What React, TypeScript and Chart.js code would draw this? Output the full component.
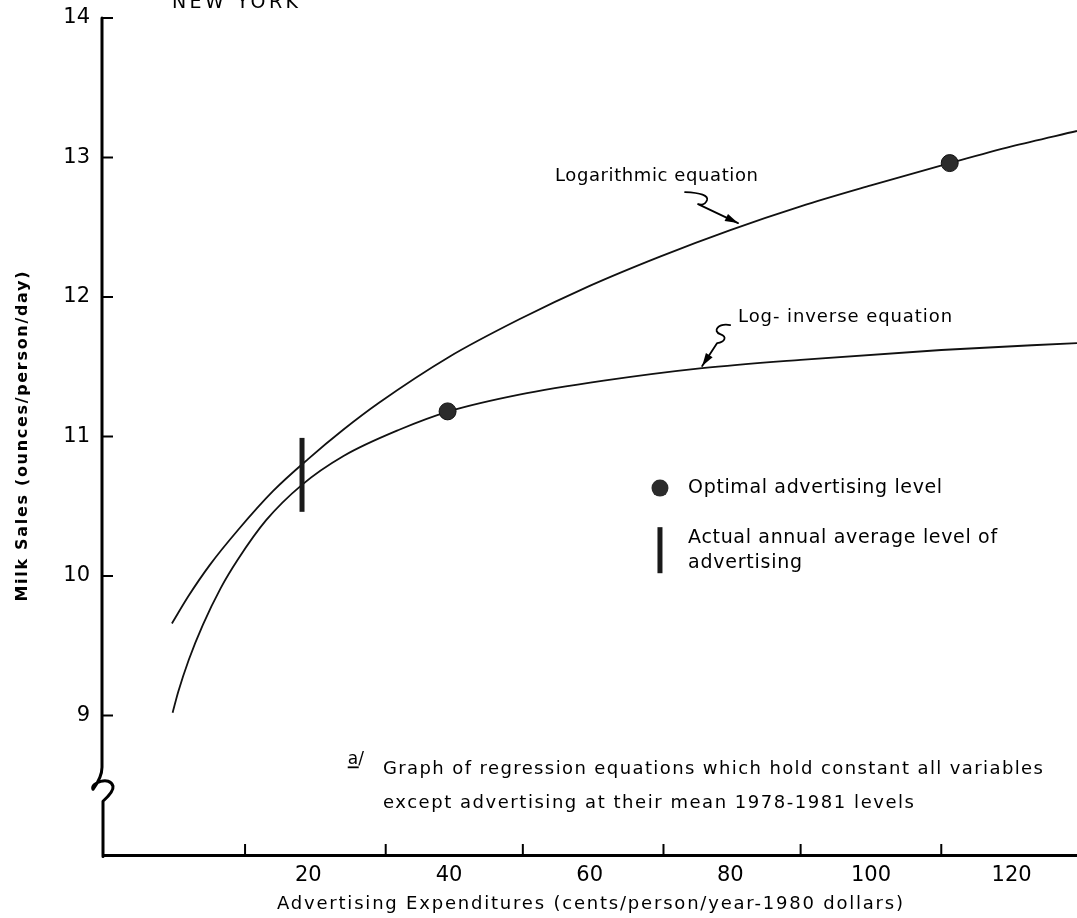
import React, { useEffect, useRef } from "react";
import { Chart, registerables } from "chart.js";
Chart.register(...registerables);

// ---- data ----
const logX = [0.6, 3, 6, 10, 15, 20, 25, 30, 40, 50, 60, 70, 80, 90, 100, 111.2, 120, 129.3];
const logY = [9.66, 9.86, 10.08, 10.33, 10.61, 10.84, 11.05, 11.24, 11.57, 11.84, 12.08, 12.29, 12.48, 12.65, 12.8, 12.96, 13.08, 13.19];
const invX = [0.7, 1.5, 3, 5, 7.5, 10, 14, 19, 25, 33, 40, 50, 62, 76, 90, 110, 129.3];
const invY = [9.02, 9.17, 9.4, 9.65, 9.91, 10.12, 10.4, 10.65, 10.86, 11.05, 11.18, 11.3, 11.4, 11.49, 11.55, 11.62, 11.67];
const optimalX = [111.2, 39.8];
const optimalY = [12.96, 11.18];
const actualX = [19.1, 19.1];
const actualY = [10.46, 10.99];
const xTickLabels = [20, 40, 60, 80, 100, 120];
const xTickMarks = [11, 31, 50.5, 70.5, 90, 110];
const yTickLabels = [9, 10, 11, 12, 13, 14];
const X_MIN = -9.2;
const X_MAX = 129.3;
const Y_MIN = 8;
const Y_MAX = 14;
const BREAK_Y = 8.5;

const FONT = '"DejaVu Sans", sans-serif';

function fitText(
  ctx: CanvasRenderingContext2D,
  text: string,
  x: number,
  y: number,
  width: number,
  size: number,
  weight = "normal",
  baseline: CanvasTextBaseline = "middle"
) {
  ctx.save();
  ctx.font = `${weight} ${size}px ${FONT}`;
  (ctx as any).letterSpacing = "0px";
  const w = ctx.measureText(text).width;
  const ls = text.length > 1 ? (width - w) / (text.length - 1) : 0;
  (ctx as any).letterSpacing = `${ls}px`;
  ctx.textAlign = "left";
  ctx.textBaseline = baseline;
  ctx.fillStyle = "#000";
  ctx.fillText(text, x, y);
  ctx.restore();
}

const annotations = {
  id: "annotations",
  afterDraw(chart: any) {
    const ctx: CanvasRenderingContext2D = chart.ctx;
    const xs = chart.scales.x;
    const ys = chart.scales.y;
    const X = (v: number) => xs.getPixelForValue(v);
    const Y = (v: number) => ys.getPixelForValue(v);
    const ca = chart.chartArea;
    ctx.save();
    (ctx as any).letterSpacing = "0px";
    ctx.strokeStyle = "#000";
    ctx.fillStyle = "#000";
    ctx.lineCap = "round";
    ctx.lineJoin = "round";

    // y axis with break
    const x0 = ca.left - 1;
    const yb = Y(BREAK_Y);
    ctx.lineWidth = 3;
    ctx.beginPath();
    ctx.moveTo(x0, Y(Y_MAX));
    ctx.lineTo(x0, yb - 18);
    ctx.quadraticCurveTo(x0, yb - 8, x0 - 9, yb + 4);
    ctx.bezierCurveTo(x0 - 12, yb - 2, x0 + 8, yb - 10, x0 + 11, yb + 1);
    ctx.quadraticCurveTo(x0 + 12, yb + 6, x0 + 1, yb + 16);
    ctx.lineTo(x0 + 1, ca.bottom + 1.5);
    ctx.stroke();

    // y tick marks (inward)
    ctx.lineWidth = 2;
    ctx.lineCap = "butt";
    for (const v of yTickLabels) {
      const y = Y(v);
      ctx.beginPath();
      ctx.moveTo(x0, y);
      ctx.lineTo(x0 + 11, y);
      ctx.stroke();
    }
    // x tick marks (inward)
    for (const v of xTickMarks) {
      const x = X(v);
      ctx.beginPath();
      ctx.moveTo(x, ca.bottom);
      ctx.lineTo(x, ca.bottom - 11);
      ctx.stroke();
    }

    // arrows
    const arrow = (tx: number, ty: number, draw: (c: CanvasRenderingContext2D) => void, dx: number, dy: number) => {
      ctx.save();
      ctx.translate(tx, ty);
      ctx.lineWidth = 1.8;
      ctx.lineCap = "round";
      ctx.beginPath();
      draw(ctx);
      ctx.stroke();
      const len = Math.hypot(dx, dy);
      const ux = dx / len, uy = dy / len;
      const hl = 13, hw = 4;
      ctx.beginPath();
      ctx.moveTo(0, 0);
      ctx.lineTo(-ux * hl - uy * hw, -uy * hl + ux * hw);
      ctx.lineTo(-ux * hl + uy * hw, -uy * hl - ux * hw);
      ctx.closePath();
      ctx.fill();
      ctx.restore();
    };
    arrow(X(81.1), Y(12.53), (c) => {
      c.moveTo(-53, -31);
      c.quadraticCurveTo(-29, -30, -31, -23);
      c.quadraticCurveTo(-33, -17, -40, -19);
      c.lineTo(0, 0);
    }, 38, 18);
    arrow(X(76.0), Y(11.505), (c) => {
      c.moveTo(28, -41);
      c.bezierCurveTo(16, -43, 10, -35, 18, -32);
      c.bezierCurveTo(26, -29, 22, -24, 15, -23);
      c.lineTo(0, 0);
    }, -15, 23);

    // curve labels
    fitText(ctx, "Logarithmic equation", X(55.07), Y(12.867), 203, 18);
    fitText(ctx, "Log- inverse equation", X(81.1), Y(11.857), 214, 18);

    // legend
    ctx.fillStyle = "#2b2b2b";
    ctx.beginPath();
    ctx.arc(X(70.0), Y(10.63), 8.5, 0, Math.PI * 2);
    ctx.fill();
    ctx.fillStyle = "#1a1a1a";
    const by1 = Y(10.35), by2 = Y(10.02);
    ctx.fillRect(X(70.0) - 2.5, by1, 5, by2 - by1);
    fitText(ctx, "Optimal advertising level", X(74.0), Y(10.63), 254, 19);
    fitText(ctx, "Actual annual average level of", X(74.0), Y(10.272), 309, 19);
    fitText(ctx, "advertising", X(74.0), Y(10.093), 114, 19);

    // footnote
    ctx.fillStyle = "#000";
    ctx.strokeStyle = "#000";
    ctx.font = `17px ${FONT}`;
    ctx.textBaseline = "alphabetic";
    ctx.textAlign = "left";
    const ax = X(25.6);
    const ay = Y(8.65);
    ctx.fillText("a/", ax, ay);
    ctx.lineWidth = 1.8;
    ctx.beginPath();
    ctx.moveTo(ax, ay + 3);
    ctx.lineTo(ax + 11, ay + 3);
    ctx.stroke();
    fitText(ctx, "Graph of regression equations which hold constant all variables", X(30.61), Y(8.616), 660, 18);
    fitText(ctx, "except advertising at their mean 1978-1981 levels", X(30.61), Y(8.373), 531, 18);

    // titles
    fitText(ctx, "Advertising Expenditures (cents/person/year-1980 dollars)", 277, 904, 626, 18);
    ctx.save();
    ctx.translate(23, (ca.top + ca.bottom) / 2);
    ctx.rotate(-Math.PI / 2);
    fitText(ctx, "Milk Sales (ounces/person/day)", -165, 0, 330, 16, "bold");
    ctx.restore();
    fitText(ctx, "NEW YORK", 172, 8, 126, 19, "normal", "alphabetic");

    ctx.restore();
  },
};

export default function App() {
  const ref = useRef<HTMLCanvasElement>(null);
  useEffect(() => {
    const canvas = ref.current!;
    const chart = new Chart(canvas, {
      type: "line",
      data: {
        datasets: [
          {
            label: "Actual annual average level of advertising",
            data: actualX.map((x, i) => ({ x, y: actualY[i] })),
            borderColor: "#1a1a1a",
            borderWidth: 5,
            borderCapStyle: "butt",
            pointRadius: 0,
            tension: 0,
            order: 0,
          } as any,
          {
            type: "scatter",
            label: "Optimal advertising level",
            data: optimalX.map((x, i) => ({ x, y: optimalY[i] })),
            backgroundColor: "#2b2b2b",
            borderColor: "#111",
            borderWidth: 1,
            pointRadius: 8.5,
            showLine: false,
            order: 0,
          } as any,
          {
            label: "Logarithmic equation",
            data: logX.map((x, i) => ({ x, y: logY[i] })),
            borderColor: "#111",
            borderWidth: 1.8,
            pointRadius: 0,
            cubicInterpolationMode: "monotone",
            fill: false,
            order: 1,
          } as any,
          {
            label: "Log-inverse equation",
            data: invX.map((x, i) => ({ x, y: invY[i] })),
            borderColor: "#111",
            borderWidth: 1.8,
            pointRadius: 0,
            cubicInterpolationMode: "monotone",
            fill: false,
            order: 1,
          } as any,
        ],
      },
      options: {
        animation: false,
        responsive: false,
        events: [],
        layout: { autoPadding: false, padding: { top: 18, left: 0, right: 0, bottom: 0 } },
        plugins: { legend: { display: false }, tooltip: { enabled: false }, title: { display: false } },
        scales: {
          x: {
            type: "linear",
            min: X_MIN,
            max: X_MAX,
            afterFit: (s: any) => {
              s.height = 63;
              s.paddingLeft = 0;
              s.paddingRight = 0;
            },
            afterBuildTicks: (s: any) => {
              s.ticks = xTickLabels.map((v) => ({ value: v }));
            },
            grid: { display: false, drawTicks: false },
            border: { display: true, width: 3, color: "#000" },
            ticks: {
              color: "#000",
              font: { family: FONT, size: 21 },
              padding: 8,
              maxRotation: 0,
              autoSkip: false,
            },
          },
          y: {
            type: "linear",
            min: Y_MIN,
            max: Y_MAX,
            afterFit: (s: any) => {
              s.width = 103;
              s.paddingTop = 0;
              s.paddingBottom = 0;
            },
            afterBuildTicks: (s: any) => {
              s.ticks = yTickLabels.map((v) => ({ value: v }));
            },
            grid: { display: false, drawTicks: false },
            border: { display: false },
            ticks: {
              color: "#000",
              font: { family: FONT, size: 21 },
              padding: 13,
              autoSkip: false,
            },
          },
        },
      },
      plugins: [annotations],
    } as any);
    return () => chart.destroy();
  }, []);
  return (
    <div style={{ position: "fixed", left: 0, top: 0, width: 1077, height: 918, background: "#fff" }}>
      <canvas ref={ref} width={1077} height={918} style={{ width: 1077, height: 918, display: "block" }} />
    </div>
  );
}
